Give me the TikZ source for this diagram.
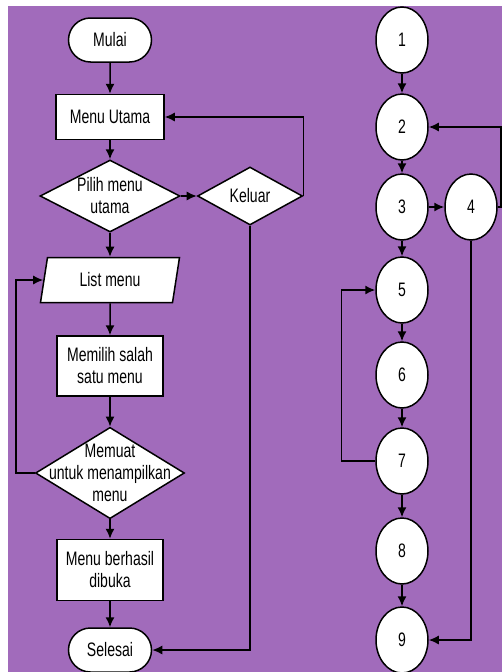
\documentclass[tikz,border=0pt]{standalone}
\usepackage{fontspec}
\setmainfont{Liberation Sans}
\newfontfamily\flowfont[FakeStretch=0.72]{Liberation Sans}
\usetikzlibrary{arrows.meta, positioning, shapes, shapes.geometric}
\definecolor{flowPurple}{RGB}{161,107,187}
\tikzset{
  goes/.style = {
    -{Latex[length=10pt, width=9pt]},
  },
  flowText/.style = {
    font=\flowfont\fontsize{19.5}{22}\selectfont,
  },
}

\begin{document}
\begin{tikzpicture}[
  x=1pt, y=-1pt,
  line width=1.5pt,
  rect/.style = {
    draw,
    fill=white,
    rectangle,
    flowText,
    align=center,
    inner sep=0pt,
    minimum width=106pt,
    minimum height=45pt,
  },
  rounded/.style = {
    rect,
    rounded rectangle,
    minimum width=83pt,
    minimum height=44pt,
  },
  slanted/.style = {
    rect,
    trapezium,
    trapezium left angle=64,
    trapezium right angle=116,
    trapezium stretches body,
    minimum width=139pt,
  },
  decision/.style = {
    rect,
    diamond,
    inner xsep=-30pt,
    inner ysep=-14pt,
  },
  circ/.style = {
    draw,
    fill=white,
    ellipse,
    flowText,
    inner sep=0pt,
    minimum width=52pt,
    minimum height=66pt,
  },
]

\useasboundingbox (0,0) rectangle (502,672);
\clip (0,0) rectangle (502,672);
\fill[flowPurple] (8,6) rectangle (502,672);

% flowchart
\node(Mulai)[rounded] at (110,40) {Mulai};
\node(MenuUtama)[rect, minimum width=108pt] at (110,117) {Menu Utama};
\node(Pilih)[decision, minimum width=140pt, minimum height=72pt] at (110,196) {Pilih menu\\utama};
\node(Keluar)[decision, inner sep=0pt, minimum width=105pt, minimum height=58pt] at (250,196) {Keluar};
\node(ListMenu)[slanted] at (110,280) {List menu};
\node(Memilih)[rect, minimum height=60pt] at (110,366) {Memilih salah\\satu menu};
\node(Memuat)[decision, minimum width=149pt, minimum height=88pt] at (110,473) {Memuat\\untuk menampilkan\\menu};
\node(Berhasil)[rect, minimum height=61pt] at (110,570) {Menu berhasil\\dibuka};
\node(Selesai)[rounded] at (110,650) {Selesai};

\draw[goes] (Mulai) -- (MenuUtama);
\draw[goes] (MenuUtama) -- (Pilih);
\draw[goes] (Pilih) -- (Keluar);
\draw[goes] (Keluar.east) |- (MenuUtama.east);
\draw[goes] (Pilih) -- (ListMenu);
\draw[goes] (ListMenu) -- (Memilih);
\draw[goes] (Memilih) -- (Memuat);
\draw[goes] (Memuat.west) -- ++(-19,0) |- (ListMenu.west);
\draw[goes] (Memuat) -- (Berhasil);
\draw[goes] (Berhasil) -- (Selesai);
\draw[goes] (Keluar.south) |- (Selesai.east);

% flow graph
\node(N1)[circ] at (402,40) {1};
\node(N2)[circ] at (402,127) {2};
\node(N3)[circ] at (402,207) {3};
\node(N4)[circ] at (471,207) {4};
\node(N5)[circ] at (402,290) {5};
\node(N6)[circ] at (402,375) {6};
\node(N7)[circ] at (402,461) {7};
\node(N8)[circ] at (402,551) {8};
\node(N9)[circ] at (402,640) {9};

\draw[goes] (N1) -- (N2);
\draw[goes] (N2) -- (N3);
\draw[goes] (N3) -- (N4);
\draw[goes] (N4.east) -- ++(3,0) |- (N2.east);
\draw[goes] (N3) -- (N5);
\draw[goes] (N5) -- (N6);
\draw[goes] (N6) -- (N7);
\draw[goes] (N7.west) -- ++(-34,0) |- (N5.west);
\draw[goes] (N7) -- (N8);
\draw[goes] (N8) -- (N9);
\draw[goes] (N4.south) |- (N9.east);

\end{tikzpicture}
\end{document}
